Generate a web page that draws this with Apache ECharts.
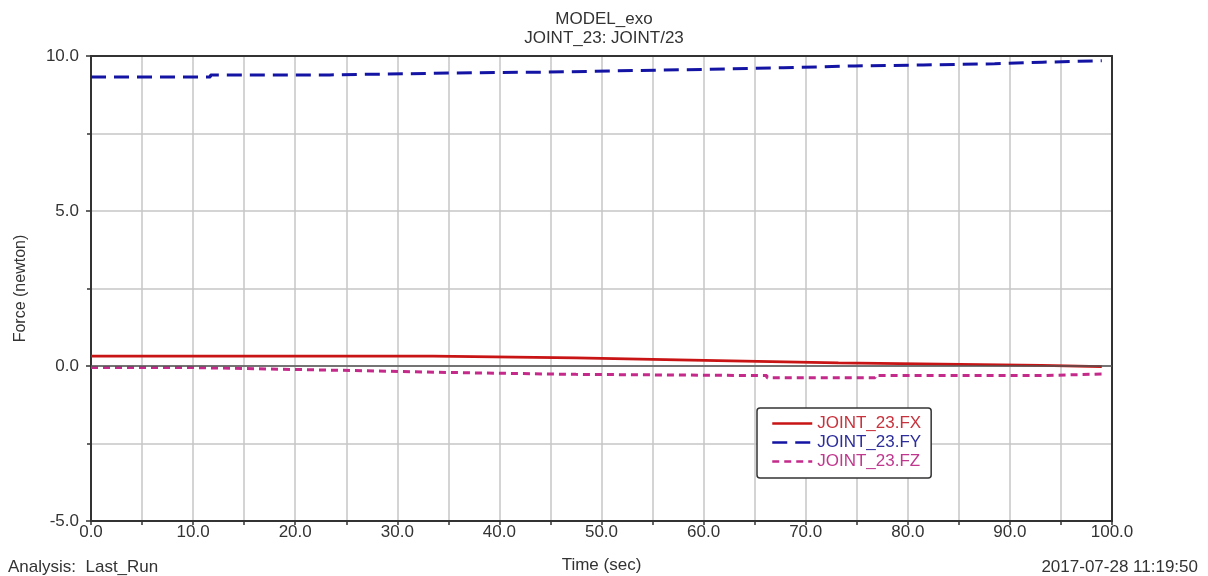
<!DOCTYPE html>
<html>
<head>
<meta charset="utf-8">
<script src="https://cdn.jsdelivr.net/npm/echarts@6/dist/echarts.min.js"></script>
<style>
  html, body { margin: 0; padding: 0; background: #fff; }
  #chart { width: 1208px; height: 576px; }
</style>
</head>
<body>
<div id="chart"></div>
<script>
// Joint reaction force components, step-wise in time: [time (sec), force (newton)]
const seriesNames = ['JOINT_23.FX', 'JOINT_23.FY', 'JOINT_23.FZ'];
const fxData = [[0, 0.32], [33.5, 0.26], [47.5, 0.20], [57.5, 0.15], [65.3, 0.10], [73.2, 0.06], [83.2, 0.02], [93.1, -0.02], [99, -0.02]];
const fyData = [[0, 9.32], [11.7, 9.39], [23.4, 9.45], [35, 9.48], [44.3, 9.52], [51.4, 9.57], [60.6, 9.62], [67.8, 9.68], [74.8, 9.71], [81.5, 9.75], [88.5, 9.80], [93.2, 9.85], [99, 9.85]];
const fzData = [[0, -0.05], [10, -0.11], [19.6, -0.16], [27.8, -0.22], [36.9, -0.27], [47.5, -0.31], [66.2, -0.38], [76.8, -0.31], [93.1, -0.26], [99, -0.26]];

const titleLines = ['MODEL_exo', 'JOINT_23: JOINT/23'];
const xAxisName = 'Time (sec)';
const yAxisName = 'Force (newton)';
const analysisText = 'Analysis:  Last_Run';
const stampText = '2017-07-28 11:19:50';

const lineColors = ['#c81414', '#1414a4', '#c42a8a'];
const legendTextColors = ['#c8323c', '#2d2d9c', '#c0388e'];
const FONT = 'Liberation Sans, Arial, sans-serif';
const FRAME = '#333';
const GRIDLINE = '#c6c6c6';

const chart = echarts.init(document.getElementById('chart'), null, { renderer: 'canvas' });

const lineSeries = (name, data, color, type, width) => ({
  name: name,
  type: 'line',
  step: 'end',
  data: data,
  symbol: 'none',
  showSymbol: false,
  animation: false,
  lineStyle: { color: color, width: width, type: type },
  itemStyle: { color: color }
});

const fx = lineSeries(seriesNames[0], fxData, lineColors[0], 'solid', 2.8);
fx.markLine = {
  silent: true,
  symbol: 'none',
  label: { show: false },
  animation: false,
  lineStyle: { color: '#555', width: 1.5, type: 'solid' },
  data: [{ yAxis: 0 }]
};
const fy = lineSeries(seriesNames[1], fyData, lineColors[1], [15, 8], 3);
const fz = lineSeries(seriesNames[2], fzData, lineColors[2], [7, 5], 3);

// Plain frame edges drawn as extra axes (top and right)
const frameAxis = {
  type: 'value',
  axisLine: { show: true, onZero: false, lineStyle: { color: FRAME, width: 2 } },
  axisTick: { show: false },
  axisLabel: { show: false },
  splitLine: { show: false }
};

chart.setOption({
  backgroundColor: '#fff',
  animation: false,
  textStyle: { fontFamily: FONT },
  title: [
    {
      text: titleLines.join('\n'),
      left: 'center',
      top: 10,
      padding: 0,
      textStyle: { fontFamily: FONT, fontSize: 17, fontWeight: 'normal', color: '#333', lineHeight: 19 }
    },
    {
      text: analysisText,
      left: 8,
      bottom: 0,
      padding: 0,
      textStyle: { fontFamily: FONT, fontSize: 17, fontWeight: 'normal', color: '#333' }
    },
    {
      text: stampText,
      right: 10,
      bottom: 0,
      padding: 0,
      textStyle: { fontFamily: FONT, fontSize: 17, fontWeight: 'normal', color: '#333' }
    }
  ],
  legend: {
    orient: 'vertical',
    left: 757,
    top: 408,
    padding: [7, 10, 8, 14],
    itemWidth: 40,
    itemHeight: 17,
    itemGap: 2,
    borderColor: '#333',
    borderWidth: 1.5,
    borderRadius: 3,
    backgroundColor: '#fff',
    itemStyle: { color: 'rgba(0,0,0,0)', borderColor: 'rgba(0,0,0,0)', borderWidth: 0 },
    lineStyle: { width: 2.5 },
    textStyle: { fontFamily: FONT, fontSize: 17 },
    data: seriesNames.map((n, i) => ({ name: n, textStyle: { color: legendTextColors[i] } }))
  },
  grid: {
    left: 91,
    right: 96,
    top: 56,
    bottom: 55,
    show: false,
    containLabel: false,
    outerBoundsMode: 'none'
  },
  xAxis: [
    {
      type: 'value',
      min: 0,
      max: 100,
      interval: 10,
      name: xAxisName,
      nameLocation: 'middle',
      nameGap: 36,
      nameTextStyle: { fontFamily: FONT, fontSize: 17, color: '#333' },
      axisLine: { show: true, onZero: false, lineStyle: { color: FRAME, width: 2 } },
      axisTick: { show: true, length: 4, lineStyle: { color: FRAME, width: 1.5 } },
      minorTick: { show: true, splitNumber: 2, length: 4, lineStyle: { color: FRAME, width: 1.5 } },
      axisLabel: { margin: 3, fontFamily: FONT, fontSize: 17, color: '#333', formatter: v => v.toFixed(1) },
      splitLine: { show: true, lineStyle: { color: GRIDLINE, width: 1.5 } },
      minorSplitLine: { show: true, lineStyle: { color: GRIDLINE, width: 1.5 } }
    },
    Object.assign({ position: 'top', min: 0, max: 100 }, frameAxis)
  ],
  yAxis: [
    {
      type: 'value',
      min: -5,
      max: 10,
      interval: 5,
      name: yAxisName,
      nameLocation: 'middle',
      nameRotate: 90,
      nameGap: 62,
      nameTextStyle: { fontFamily: FONT, fontSize: 16, color: '#333' },
      axisLine: { show: true, onZero: false, lineStyle: { color: FRAME, width: 2 } },
      axisTick: { show: true, length: 5, lineStyle: { color: FRAME, width: 1.5 } },
      minorTick: { show: true, splitNumber: 2, length: 4, lineStyle: { color: FRAME, width: 1.5 } },
      axisLabel: { margin: 12, fontFamily: FONT, fontSize: 17, color: '#333', formatter: v => v.toFixed(1) },
      splitLine: { show: true, lineStyle: { color: GRIDLINE, width: 1.5 } },
      minorSplitLine: { show: true, lineStyle: { color: GRIDLINE, width: 1.5 } }
    },
    Object.assign({ position: 'right', min: -5, max: 10 }, frameAxis)
  ],
  series: [fx, fy, fz]
});
</script>
</body>
</html>
